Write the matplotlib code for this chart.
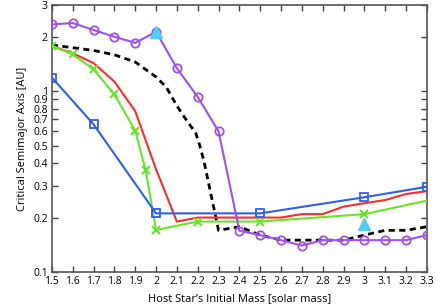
import matplotlib
matplotlib.use("Agg")
import matplotlib.pyplot as plt
from matplotlib.ticker import FixedLocator, NullLocator, FixedFormatter

plt.rcParams['font.family'] = ['Open Sans', 'DejaVu Sans']

# Purple circles
purple_x = [1.5, 1.6, 1.7, 1.8, 1.9, 2.0, 2.1, 2.2, 2.3, 2.4, 2.5, 2.6, 2.7, 2.8, 2.9, 3.0, 3.1, 3.2, 3.3]
purple_y = [2.34, 2.38, 2.18, 2.0, 1.85, 2.13, 1.34, 0.93, 0.60, 0.169, 0.160, 0.150, 0.140, 0.150, 0.150, 0.150, 0.150, 0.150, 0.160]

# Blue squares
blue_x = [1.5, 1.7, 2.0, 2.5, 3.0, 3.3]
blue_y = [1.19, 0.656, 0.211, 0.211, 0.259, 0.296]

# Red line
red_x = [1.5, 1.6, 1.7, 1.8, 1.9, 2.0, 2.1, 2.2, 2.3, 2.4, 2.5, 2.6, 2.7, 2.8, 2.9, 3.0, 3.1, 3.2, 3.3]
red_y = [1.78, 1.62, 1.43, 1.13, 0.776, 0.37, 0.19, 0.20, 0.20, 0.20, 0.20, 0.20, 0.209, 0.209, 0.23, 0.24, 0.25, 0.27, 0.28]

# Green crosses
green_x = [1.5, 1.6, 1.7, 1.8, 1.9, 1.95, 2.0, 2.2, 2.5, 3.0, 3.3]
green_y = [1.78, 1.60, 1.32, 0.96, 0.605, 0.366, 0.171, 0.19, 0.19, 0.209, 0.248]
green_marked = [1.5, 1.6, 1.7, 1.8, 1.9, 1.95, 2.0, 2.2, 2.5, 3.0]

# Black dashed
black_x = [1.5, 1.6, 1.7, 1.8, 1.9, 2.0, 2.05, 2.1, 2.15, 2.19, 2.21, 2.23, 2.3, 2.4, 2.5, 2.6, 2.7, 2.8, 2.9, 3.0, 3.1, 3.2, 3.3]
black_y = [1.80, 1.74, 1.68, 1.59, 1.45, 1.20, 1.05, 0.83, 0.68, 0.59, 0.50, 0.41, 0.17, 0.178, 0.16, 0.15, 0.15, 0.15, 0.15, 0.16, 0.17, 0.17, 0.178]

# Cyan triangles
cyan_x = [2.0, 3.0]
cyan_y = [2.13, 0.184]

xticks = [1.5, 1.6, 1.7, 1.8, 1.9, 2.0, 2.1, 2.2, 2.3, 2.4, 2.5, 2.6, 2.7, 2.8, 2.9, 3.0, 3.1, 3.2, 3.3]
xtick_labels = ["1.5", "1.6", "1.7", "1.8", "1.9", "2", "2.1", "2.2", "2.3", "2.4", "2.5", "2.6", "2.7", "2.8", "2.9", "3", "3.1", "3.2", "3.3"]
yticks = [0.1, 0.2, 0.3, 0.4, 0.5, 0.6, 0.7, 0.8, 0.9, 1, 2, 3]
ytick_labels = ["0.1", "0.2", "0.3", "0.4", "0.5", "0.6", "0.7", "0.8", "0.9", "1", "2", "3"]

fig = plt.figure(figsize=(4.36, 3.07), dpi=100)
ax = fig.add_axes([0.119, 0.114, 0.860, 0.870])

purple = '#a050f0'
blue = '#2f5fef'
red = '#ff2a2a'
green = '#66e62a'
cyan = '#4dd0f0'

ax.plot(black_x, black_y, color='black', lw=2.0, ls=(0, (2.2, 1.6)), zorder=2)
ax.plot(red_x, red_y, color=red, lw=1.5, zorder=3)
gm = [i for i, x in enumerate(green_x) if x in green_marked]
ax.plot(green_x, green_y, color=green, lw=1.5, marker='x', ms=6, mew=1.5, markevery=gm, zorder=4)
ax.plot(blue_x, blue_y, color=blue, lw=1.5, marker='s', ms=6, mfc='none', mew=1.3, zorder=5)
ax.plot(purple_x, purple_y, color=purple, lw=1.5, marker='o', ms=6, mfc='none', mew=1.3, zorder=6)
ax.plot(cyan_x, cyan_y, ls='none', marker='^', ms=8, color=cyan, mec=cyan, zorder=7)

ax.set_yscale('log')
ax.set_xlim(1.5, 3.3)
ax.set_ylim(0.1, 3)
ax.xaxis.set_major_locator(FixedLocator(xticks))
ax.xaxis.set_major_formatter(FixedFormatter(xtick_labels))
ax.xaxis.set_minor_locator(NullLocator())
ax.yaxis.set_major_locator(FixedLocator(yticks))
ax.yaxis.set_major_formatter(FixedFormatter(ytick_labels))
ax.yaxis.set_minor_locator(NullLocator())

ax.tick_params(direction='in', length=4, width=1, colors='#444444', labelcolor='black',
               labelsize=7.5, top=True, right=True, pad=3)
for s in ax.spines.values():
    s.set_color('#555555')
    s.set_linewidth(1.2)

ax.set_xlabel('Host Star\u2019s Initial Mass [solar mass]', fontsize=8, labelpad=4)
ax.set_ylabel('Critical Semimajor Axis [AU]', fontsize=8, labelpad=4)

fig.savefig('out.png', dpi=100)
